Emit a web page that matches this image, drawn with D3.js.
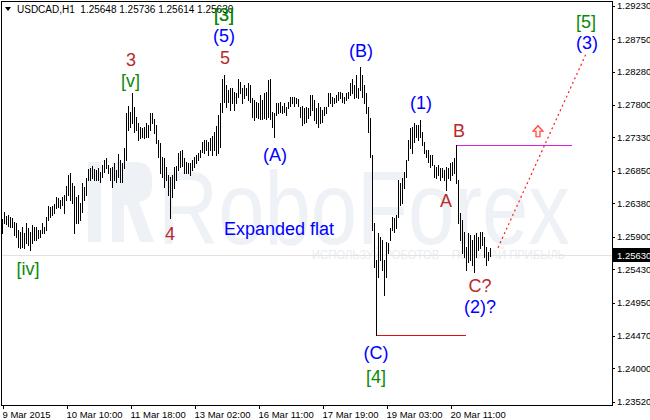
<!DOCTYPE html>
<html><head><meta charset="utf-8">
<script src="https://cdn.jsdelivr.net/npm/d3@7"></script>
<style>body{margin:0;background:#fff}svg{display:block}</style>
</head><body>
<svg id="c" width="650" height="420"></svg>
<script>
const symbolTitle = "USDCAD,H1  1.25648 1.25736 1.25614 1.25630";

const highs = [
1.2616,1.2626,1.2620,1.2621,1.2618,1.2617,1.2611,1.2610,1.2600,1.2597,
1.2604,1.2595,1.2610,1.2603,1.2597,1.2607,1.2604,1.2604,1.2600,1.2600,
1.2610,1.2604,1.2618,1.2634,1.2633,1.2634,1.2637,1.2647,1.2646,1.2643,
1.2647,1.2650,1.2663,1.2679,1.2682,1.2667,1.2663,1.2647,1.2650,1.2638,
1.2667,1.2661,1.2674,1.2687,1.2689,1.2692,1.2687,1.2686,1.2689,1.2683,
1.2693,1.2700,1.2703,1.2693,1.2689,1.2690,1.2696,1.2686,1.2709,1.2700,
1.2696,1.2718,1.2768,1.2779,1.2770,1.2797,1.2777,1.2762,1.2754,1.2748,
1.2747,1.2748,1.2754,1.2751,1.2768,1.2768,1.2760,1.2751,1.2729,1.2725,
1.2705,1.2703,1.2690,1.2679,1.2676,1.2679,1.2690,1.2692,1.2710,1.2713,
1.2715,1.2703,1.2698,1.2696,1.2696,1.2700,1.2705,1.2708,1.2710,1.2715,
1.2726,1.2729,1.2729,1.2726,1.2732,1.2735,1.2741,1.2749,1.2765,1.2782,
1.2818,1.2823,1.2808,1.2801,1.2804,1.2805,1.2798,1.2797,1.2817,1.2813,
1.2805,1.2808,1.2804,1.2811,1.2808,1.2790,1.2787,1.2784,1.2782,1.2794,
1.2787,1.2797,1.2798,1.2816,1.2818,1.2770,1.2768,1.2782,1.2782,1.2784,
1.2779,1.2782,1.2777,1.2784,1.2791,1.2791,1.2791,1.2790,1.2788,1.2777,
1.2779,1.2775,1.2777,1.2775,1.2794,1.2794,1.2787,1.2775,1.2782,1.2777,
1.2773,1.2777,1.2777,1.2797,1.2797,1.2791,1.2790,1.2794,1.2798,1.2798,
1.2797,1.2791,1.2797,1.2798,1.2811,1.2818,1.2808,1.2823,1.2804,1.2834,
1.2823,1.2808,1.2797,1.2777,1.2761,1.2708,1.2610,1.2556,1.2595,1.2590,
1.2585,1.2556,1.2582,1.2581,1.2603,1.2618,1.2617,1.2621,1.2672,1.2667,
1.2674,1.2683,1.2700,1.2729,1.2747,1.2748,1.2754,1.2751,1.2751,1.2758,
1.2741,1.2726,1.2715,1.2715,1.2708,1.2708,1.2693,1.2690,1.2693,1.2689,
1.2689,1.2686,1.2690,1.2689,1.2696,1.2698,1.2703,1.2722,1.2672,1.2624,
1.2614,1.2597,1.2575,1.2595,1.2593,1.2585,1.2593,1.2595,1.2590,1.2597,
1.2597,1.2590,1.2575,1.2568,1.25736
];

const lows = [
1.2595,1.2610,1.2608,1.2605,1.2604,1.2604,1.2593,1.2590,1.2575,1.2574,
1.2575,1.2574,1.2581,1.2578,1.2571,1.2581,1.2585,1.2585,1.2588,1.2590,
1.2595,1.2595,1.2600,1.2614,1.2618,1.2621,1.2624,1.2631,1.2633,1.2631,
1.2636,1.2624,1.2643,1.2650,1.2643,1.2638,1.2595,1.2610,1.2610,1.2614,
1.2626,1.2643,1.2650,1.2672,1.2672,1.2674,1.2672,1.2672,1.2672,1.2669,
1.2676,1.2683,1.2689,1.2682,1.2672,1.2661,1.2672,1.2669,1.2676,1.2669,
1.2669,1.2689,1.2700,1.2744,1.2748,1.2754,1.2741,1.2744,1.2729,1.2732,
1.2734,1.2732,1.2734,1.2734,1.2744,1.2754,1.2739,1.2725,1.2705,1.2682,
1.2676,1.2661,1.2672,1.2650,1.2617,1.2647,1.2660,1.2672,1.2686,1.2690,
1.2692,1.2682,1.2682,1.2682,1.2679,1.2686,1.2690,1.2696,1.2700,1.2705,
1.2712,1.2710,1.2715,1.2708,1.2715,1.2708,1.2715,1.2708,1.2710,1.2719,
1.2770,1.2784,1.2777,1.2784,1.2773,1.2782,1.2773,1.2782,1.2791,1.2797,
1.2782,1.2790,1.2794,1.2787,1.2784,1.2762,1.2758,1.2762,1.2761,1.2760,
1.2760,1.2761,1.2760,1.2762,1.2760,1.2748,1.2734,1.2765,1.2768,1.2770,
1.2768,1.2770,1.2765,1.2775,1.2779,1.2782,1.2779,1.2782,1.2779,1.2762,
1.2751,1.2754,1.2755,1.2761,1.2765,1.2773,1.2758,1.2754,1.2748,1.2754,
1.2755,1.2765,1.2768,1.2779,1.2782,1.2779,1.2782,1.2784,1.2787,1.2790,
1.2784,1.2782,1.2787,1.2790,1.2794,1.2797,1.2790,1.2791,1.2790,1.2801,
1.2791,1.2782,1.2768,1.2741,1.2705,1.2600,1.2546,1.2448,1.2532,1.2556,
1.2542,1.2506,1.2532,1.2567,1.2585,1.2600,1.2597,1.2603,1.2618,1.2636,
1.2638,1.2660,1.2676,1.2700,1.2718,1.2710,1.2726,1.2734,1.2729,1.2734,
1.2722,1.2710,1.2705,1.2698,1.2690,1.2693,1.2676,1.2674,1.2679,1.2672,
1.2676,1.2672,1.2657,1.2674,1.2672,1.2679,1.2682,1.2667,1.2610,1.2585,
1.2567,1.2561,1.2542,1.2554,1.2556,1.2549,1.2539,1.2561,1.2571,1.2574,
1.2578,1.2561,1.2549,1.2556,1.25614
];

const timeTickIndex = [0, 32, 64, 96, 128, 160, 192, 224];
const timeTickLabels = ["9 Mar 2015","10 Mar 10:00","11 Mar 18:00","13 Mar 02:00","16 Mar 11:00","17 Mar 19:00","19 Mar 03:00","20 Mar 11:00"];
const priceTicks = [1.2923,1.2875,1.2828,1.2780,1.2733,1.2685,1.2638,1.2590,1.2543,1.2495,1.2447,1.2400,1.2352];
const priceTickLabels = ["1.29230","1.28750","1.28280","1.27800","1.27330","1.26850","1.26380","1.25900","1.25430","1.24950","1.24470","1.24000","1.23520"];
const lastPrice = 1.2563;
const lastPriceLabel = "1.25630";

// wave labels: text, bar index, price, degree
const labelTexts  = ["3","[v]","[3]","(5)","5","(B)","(1)","B","A","(A)","4","[iv]","Expanded flat","(C)","[4]","C?","(2)?","[5]","(3)"];
const labelBars   = [64.25,64,110.75,110.75,111.25,179.25,209.25,228.25,221.75,136.25,83.75,12.75,138.25,186.75,186.75,238.75,238.75,291.75,292.25];
const labelPrices = [1.28447,1.28144,1.2911,1.28793,1.28476,1.28577,1.27841,1.27423,1.26414,1.27077,1.25938,1.25447,1.26024,1.24236,1.23876,1.25202,1.24899,1.29009,1.28692];
const labelDegree = ["minor","primary","primary","inter","minor","inter","inter","minor","minor","inter","minor","primary","inter","inter","primary","minor","inter","primary","inter"];

// level lines: [fromBar, toBar, price]
const levelB = [227, 284.75, 1.2722];
const levelC = [187, 231.6, 1.2448];
// projected path [bar, price]
const projection = [[247.75, 1.2574], [292, 1.2855]];
const arrowMark = [267.75, 1.2742];

const degreeColor = {minor: "#b8292b", inter: "#0000ff", primary: "#0a8a0a"};
const FONT = "'Liberation Sans', Arial, sans-serif";

const svg = d3.select("#c");
const x = d3.scaleLinear().domain([0, 244]).range([2.5, 490.5]);
const y = d3.scaleLinear().domain([1.2352, 1.2923]).range([401.7, 5.7]);

// watermark
const wm = svg.append("g").attr("fill", "#eef1f6");
wm.append("rect").attr("x", 88).attr("y", 162).attr("width", 13).attr("height", 80);
wm.append("path").attr("d", "M112,162 H136 Q152,162 152,180 V186 Q152,200 139,202 L154,242 H140 L127,205 H124 V242 H112 Z");
wm.append("text").attr("x", 158).attr("y", 244).attr("font-family", FONT).attr("font-size", 104)
  .attr("textLength", 412).attr("lengthAdjust", "spacingAndGlyphs").text("RoboForex");
wm.append("text").attr("x", 312).attr("y", 259).attr("font-family", FONT).attr("font-size", 12)
  .attr("fill", "#e9ecf1").attr("textLength", 253).attr("lengthAdjust", "spacingAndGlyphs")
  .text("ИСПОЛЬЗУЙ РОБОТОВ – ПОЛУЧАЙ ПРИБЫЛЬ");

// bid line
svg.append("line").attr("x1", 2).attr("x2", 612).attr("y1", Math.round(y(lastPrice)) + 0.5).attr("y2", Math.round(y(lastPrice)) + 0.5)
  .attr("stroke", "#e2e2e2");

// bars
svg.append("g").attr("stroke", "#000").attr("stroke-width", 1).attr("shape-rendering", "crispEdges")
  .selectAll("line").data(highs.map((h, i) => ({i, h, l: lows[i]}))).join("line")
  .attr("x1", d => x(d.i)).attr("x2", d => x(d.i))
  .attr("y1", d => y(d.h)).attr("y2", d => y(d.l) + 1);

// level lines
svg.append("line").attr("x1", x(levelB[0])).attr("x2", x(levelB[1]))
  .attr("y1", Math.round(y(levelB[2])) + 0.5).attr("y2", Math.round(y(levelB[2])) + 0.5)
  .attr("stroke", "#e020e0").attr("shape-rendering", "crispEdges");
svg.append("line").attr("x1", x(levelC[0])).attr("x2", x(levelC[1]))
  .attr("y1", Math.round(y(levelC[2])) + 0.5).attr("y2", Math.round(y(levelC[2])) + 0.5)
  .attr("stroke", "#dd1111").attr("shape-rendering", "crispEdges");

// projection dotted line
svg.append("path").attr("d", d3.line().x(d => x(d[0])).y(d => y(d[1]))(projection))
  .attr("fill", "none").attr("stroke", "#ff1a1a").attr("stroke-width", 1.2).attr("stroke-dasharray", "2,3");

// arrow mark
{
  const cx = x(arrowMark[0]), cy = y(arrowMark[1]);
  svg.append("path")
    .attr("d", `M${cx},${cy-5.5} L${cx+5},${cy} L${cx+2},${cy} L${cx+2},${cy+5.5} L${cx-2},${cy+5.5} L${cx-2},${cy} L${cx-5},${cy} Z`)
    .attr("fill", "#fff0e8").attr("stroke", "#ff4040").attr("stroke-width", 1.2);
}

// wave labels
svg.append("g").selectAll("text").data(labelTexts.map((t, i) => ({t, i}))).join("text")
  .attr("x", d => x(labelBars[d.i])).attr("y", d => y(labelPrices[d.i]))
  .attr("dy", "0.36em").attr("text-anchor", "middle")
  .attr("font-family", FONT).attr("font-size", 18)
  .attr("fill", d => degreeColor[labelDegree[d.i]])
  .text(d => d.t);

// frame
svg.append("rect").attr("x", 1.5).attr("y", 1.5).attr("width", 611).attr("height", 404)
  .attr("fill", "none").attr("stroke", "#000").attr("shape-rendering", "crispEdges");

// axes
const yAxis = d3.axisRight(y).tickValues(priceTicks).tickFormat((d, i) => priceTickLabels[i]).tickSize(3).tickPadding(2);
const gy = svg.append("g").attr("transform", "translate(612,0)").call(yAxis);
gy.select(".domain").remove();
gy.selectAll("line").attr("shape-rendering", "crispEdges");
gy.selectAll("text").attr("font-family", FONT).attr("font-size", 9.5).attr("fill", "#000");

const xAxis = d3.axisBottom(x).tickValues(timeTickIndex).tickFormat((d, i) => timeTickLabels[i]).tickSize(4).tickPadding(2);
const gx = svg.append("g").attr("transform", "translate(0,405)").call(xAxis);
gx.select(".domain").remove();
gx.selectAll("line").attr("shape-rendering", "crispEdges");
gx.selectAll("text").attr("font-family", FONT).attr("font-size", 9.5).attr("fill", "#000")
  .attr("text-anchor", "start").attr("x", -0.5);

// current price label
{
  const py = y(lastPrice);
  svg.append("rect").attr("x", 613).attr("y", Math.round(py) - 7).attr("width", 37).attr("height", 14).attr("fill", "#000");
  svg.append("text").attr("x", 617).attr("y", py).attr("dy", "0.35em").attr("font-family", FONT)
    .attr("font-size", 9.5).attr("fill", "#fff").text(lastPriceLabel);
}

// title
svg.append("path").attr("d", "M5,7 L11,7 L8,11 Z").attr("fill", "#000");
svg.append("text").attr("x", 17).attr("y", 13).attr("font-family", FONT).attr("font-size", 10)
  .attr("fill", "#000").attr("xml:space", "preserve").text(symbolTitle);
// redraw [3] over title
svg.append("text").attr("x", x(labelBars[2])).attr("y", y(labelPrices[2])).attr("dy", "0.36em")
  .attr("text-anchor", "middle").attr("font-family", FONT).attr("font-size", 18)
  .attr("fill", degreeColor.primary).text(labelTexts[2]);
</script>
</body></html>
